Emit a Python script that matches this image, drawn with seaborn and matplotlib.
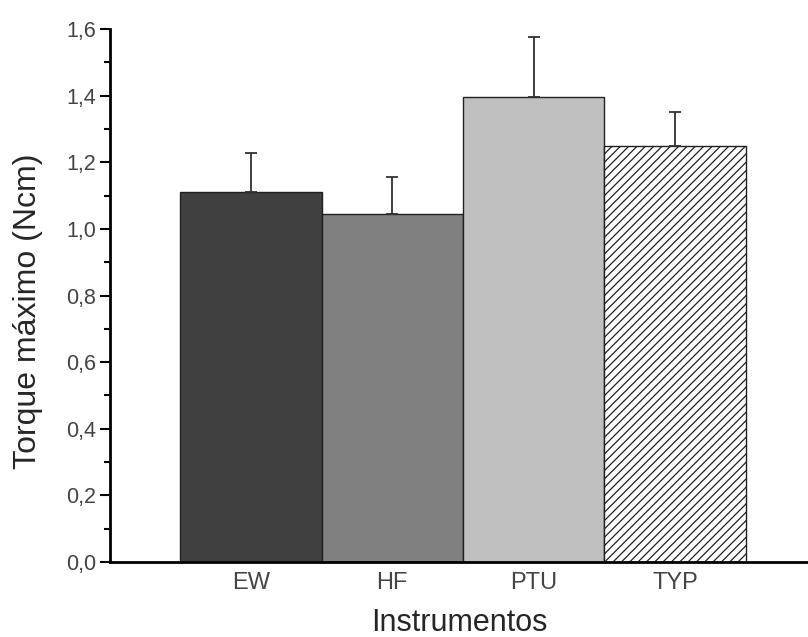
import numpy as np
import pandas as pd
import matplotlib
matplotlib.use("Agg")
import matplotlib.pyplot as plt
from matplotlib.ticker import FuncFormatter, MultipleLocator
import seaborn as sns

# ── Data ──────────────────────────────────────────────────────────────────────
instrumentos = ["EW", "HF", "PTU", "TYP"]
torque = [1.111, 1.045, 1.395, 1.250]
desvio = [0.118, 0.110, 0.181, 0.102]
cores = ["#404040", "#808080", "#c0c0c0", "#ffffff"]

sns.set_style("ticks")
plt.rcParams["font.family"] = ["Liberation Sans", "DejaVu Sans"]
plt.rcParams["hatch.linewidth"] = 0.9
plt.rcParams["hatch.color"] = "#202020"

df = pd.DataFrame({"inst": instrumentos, "torque": torque})

fig = plt.figure(figsize=(8.08, 6.37), dpi=100)
ax = fig.add_axes([0.1361, 0.1177, 0.8639, 0.8368])

sns.barplot(data=df, x="inst", y="torque", hue="inst", order=instrumentos,
            palette=cores, width=1.0, errorbar=None, legend=False,
            edgecolor="#202020", linewidth=1.0, saturation=1, ax=ax)

# hatch on last bar (TYP)
for patch, name in zip(ax.patches, instrumentos):
    if name == "TYP":
        patch.set_hatch("////")

# upper-only error bars
xpos = np.arange(len(instrumentos))
ax.errorbar(xpos, torque, yerr=[np.zeros(len(desvio)), desvio], fmt="none",
            ecolor="#303030", elinewidth=1.3, capsize=4, capthick=1.3, zorder=1)

ax.set_xlim(-0.996, 3.94)
ax.set_ylim(0, 1.6)
ax.yaxis.set_major_locator(MultipleLocator(0.2))
ax.yaxis.set_minor_locator(MultipleLocator(0.1))
ax.yaxis.set_major_formatter(FuncFormatter(lambda v, p: f"{v:.1f}".replace(".", ",")))

for side in ["top", "right"]:
    ax.spines[side].set_visible(False)
for side in ["left", "bottom"]:
    ax.spines[side].set_linewidth(2.0)
    ax.spines[side].set_color("black")

ax.tick_params(axis="y", which="major", length=7, width=1.5, color="black",
               labelsize=15.5, labelcolor="#444444", pad=3)
ax.tick_params(axis="y", which="minor", length=4, width=1.5, color="black")
ax.tick_params(axis="x", which="both", length=0, labelsize=17,
               labelcolor="#444444", pad=7)

ax.set_xlabel("Instrumentos", fontsize=22)
ax.set_ylabel("Torque máximo (Ncm)", fontsize=23)
ax.xaxis.label.set_va("center")
ax.xaxis.set_label_coords(0.501, -0.114)
ax.yaxis.label.set_va("center")
ax.yaxis.set_label_coords(-0.1175, 0.471)

fig.savefig("out.png", dpi=100)
